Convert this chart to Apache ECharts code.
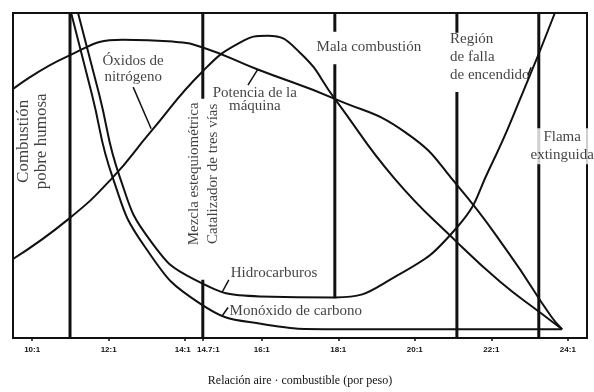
<!DOCTYPE html>
<html>
<head>
<meta charset="utf-8">
<script src="https://cdn.jsdelivr.net/npm/echarts@6/dist/echarts.min.js"></script>
<style>
  html, body { margin: 0; background: #fff; }
  #chart { width: 594px; height: 392px; }
</style>
</head>
<body>
<div id="chart"></div>
<script>
// air / fuel ratio ticks and what is printed under them
const ratioTicks = [10, 12, 14, 14.46, 16, 18, 20, 22, 24]
const ratioLabels = ['10:1', '12:1', '14:1', '14.7:1', '16:1', '18:1', '20:1', '22:1', '24:1']

// curves, [ratio, relative level 0-100]
const hidrocarburos = [
  [11.20, 100], [11.75, 75.1], [12.30, 49.2], [13.08, 30.1], [14.26, 17.9], [15.95, 12.8],
  [17.91, 12.5], [19.48, 18.8], [21.10, 34.0], [21.96, 52.3], [22.83, 75.7], [23.66, 100]
]
const monoxido = [
  [11.02, 100], [11.56, 75.1], [12.11, 49.2], [12.95, 28.0], [14.39, 10.6], [16.01, 4.3],
  [17.78, 2.7], [20.91, 2.7], [23.85, 2.7]
]
const oxidosNitrogeno = [
  [9.50, 24.3], [10.94, 36.5], [12.09, 49.2], [13.08, 63.2], [14.46, 82.1], [15.43, 90.9],
  [16.16, 93.0], [17.00, 87.8], [17.91, 73.6], [19.46, 49.2], [21.10, 29.5], [22.23, 17.3],
  [23.30, 7.6], [23.85, 2.7]
]
const potencia = [
  [9.50, 76.6], [10.91, 86.6], [12.37, 91.8], [13.68, 91.2], [14.46, 89.4], [15.88, 82.7],
  [17.91, 73.6], [19.80, 62.9], [21.10, 47.1], [22.49, 25.5], [23.56, 6.7], [23.85, 2.7]
]

// region boundaries: ratio, and the pieces of the line that are drawn (from, to)
const boundaryX = [10.99, 14.46, 17.91, 21.10, 23.24]
const boundarySpans = [
  [[0, 100]],
  [[0, 17.9], [73.6, 100]],
  [[12.2, 84.2], [94.2, 100]],
  [[0, 75.7], [93.9, 100]],
  [[0, 100]]
]

// annotation texts
const noteTexts = [
  'Combustión\npobre humosa',
  'Óxidos de\nnitrógeno',
  'Mezcla estequiométrica\nCatalizador de tres vías',
  'Potencia de la\nmáquina',
  'Mala combustión',
  'Región\nde falla\nde encendido',
  'Flama\nextinguida',
  'Hidrocarburos',
  'Monóxido de carbono'
]
const notePos = [
  [10.00, 60.5], [12.64, 82.7], [14.47, 50.5], [15.82, 73.3], [18.80, 89.4],
  [20.92, 86.3], [23.85, 59.0], [16.32, 20.1], [16.89, 8.2]
]

// short pointer lines from the texts to their curves
const leaders = [
  [[12.64, 77.2], [13.11, 64.4]],
  [[15.64, 77.8], [15.90, 82.7]],
  [[15.14, 17.9], [14.96, 14.0]],
  [[15.12, 9.4], [14.96, 6.7]],
  [[23.04, 83.3], [22.96, 80.9]]
]

const ink = '#111'
const serif = 'Liberation Serif'

const chart = echarts.init(document.getElementById('chart'))

const curve = (name, data) => ({
  name, type: 'line', data, showSymbol: false, smooth: 0.5,
  lineStyle: { color: ink, width: 2 }, silent: true, z: 3
})

const series = [
  curve('Hidrocarburos', hidrocarburos),
  curve('Monóxido de carbono', monoxido),
  curve('Óxidos de nitrógeno', oxidosNitrogeno),
  curve('Potencia de la máquina', potencia)
]

boundaryX.forEach((x, i) => {
  boundarySpans[i].forEach(s => {
    series.push({
      type: 'line', data: [[x, s[0]], [x, s[1]]], showSymbol: false,
      lineStyle: { color: ink, width: 3 }, silent: true, z: 2
    })
  })
})

leaders.forEach(l => {
  series.push({
    type: 'line', data: l, showSymbol: false,
    lineStyle: { color: ink, width: 1.5 }, silent: true, z: 2
  })
})

const noteStyle = [
  { rotate: 90, fontSize: 17, lineHeight: 18 },
  { fontSize: 15, lineHeight: 16 },
  { rotate: 90, fontSize: 15, lineHeight: 19 },
  { fontSize: 15, lineHeight: 13 },
  { fontSize: 15 },
  { fontSize: 15, lineHeight: 18, align: 'left' },
  { fontSize: 15, lineHeight: 18, backgroundColor: '#fff', padding: [0, 1] },
  { fontSize: 15 },
  { fontSize: 15 }
]

series.push({
  type: 'scatter', symbolSize: 0, silent: true, z: 5,
  data: noteTexts.map((t, i) => ({
    value: notePos[i],
    label: Object.assign({
      show: true, position: [0, 0], formatter: t, color: ink, fontFamily: serif,
      align: 'center', verticalAlign: 'middle'
    }, noteStyle[i])
  }))
})

const option = {
  animation: false,
  backgroundColor: '#fff',
  grid: { left: 13, right: 7, top: 13, bottom: 50, show: true, borderColor: ink, borderWidth: 2 },
  xAxis: {
    type: 'value', min: 9.5, max: 24.5,
    name: 'Relación aire · combustible (por peso)',
    nameLocation: 'middle', nameGap: 37,
    nameTextStyle: { fontFamily: serif, fontSize: 12, color: ink },
    axisLine: { show: true, lineStyle: { color: ink, width: 2 } },
    axisTick: { show: true, customValues: ratioTicks, length: 3, lineStyle: { color: ink, width: 1.5 } },
    axisLabel: {
      customValues: ratioTicks, hideOverlap: false, margin: 8,
      fontFamily: 'Liberation Sans', fontWeight: 'bold', fontSize: 8, color: ink,
      formatter: v => {
        const i = ratioTicks.findIndex(t => Math.abs(t - v) < 1e-6)
        if (i < 0) return ''
        if (i === 2) return '{l|' + ratioLabels[i] + '}'
        if (i === 3) return '{r|' + ratioLabels[i] + '}'
        return ratioLabels[i]
      },
      rich: {
        l: { fontFamily: 'Liberation Sans', fontWeight: 'bold', fontSize: 8, color: ink, padding: [0, 5, 0, 0] },
        r: { fontFamily: 'Liberation Sans', fontWeight: 'bold', fontSize: 8, color: ink, padding: [0, 0, 0, 11] }
      }
    },
    splitLine: { show: false }
  },
  yAxis: {
    type: 'value', min: 0, max: 100,
    axisLine: { show: false }, axisTick: { show: false },
    axisLabel: { show: false }, splitLine: { show: false }
  },
  series
}

chart.setOption(option)
</script>
</body>
</html>
